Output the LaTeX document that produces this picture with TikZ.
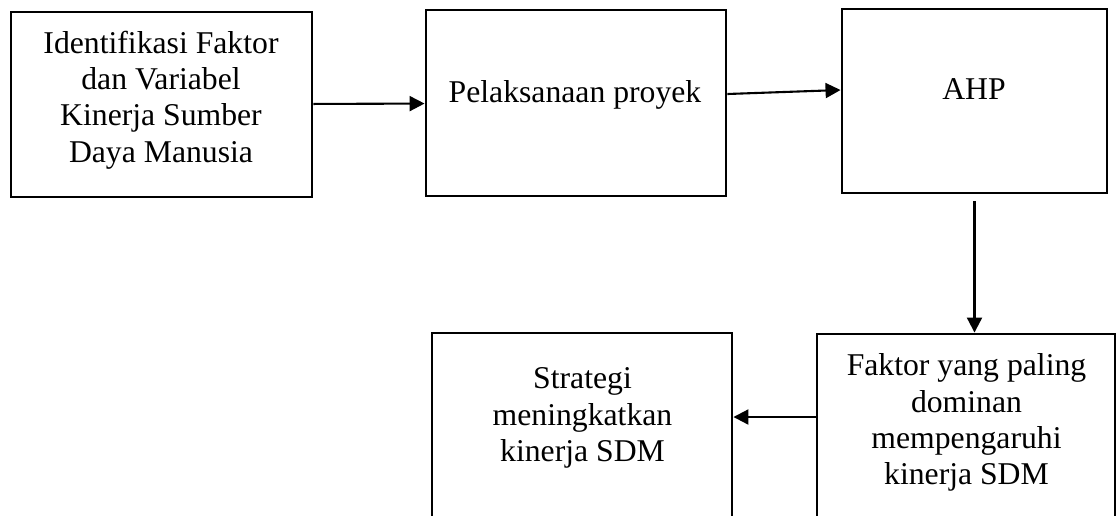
\documentclass[tikz,border=0pt]{standalone}
\usepackage{fontspec}
\setmainfont{Liberation Serif}
\usetikzlibrary{arrows.meta,positioning}

\begin{document}
\begin{tikzpicture}[x=1pt,y=-1pt,
box/.style={draw,line width=2.9pt,inner sep=0pt},
txt/.style={align=center,inner sep=0pt,font=\fontsize{31.7}{36.4}\selectfont},
arr/.style={-{Triangle[length=15pt,width=15pt]},line width=2.1pt}]
\useasboundingbox (0,0) rectangle (1117,515);
\clip (0,0) rectangle (1117,515);
\node[box,minimum width=301pt,minimum height=185pt] (ident) at (161.5,104.5) {};
\node[box,minimum width=300pt,minimum height=186pt] (pel) at (576,103) {};
\node[box,minimum width=265pt,minimum height=184pt] (ahp) at (974.5,101) {};
\node[box,minimum width=298pt,minimum height=191pt] (faktor) at (966,429.5) {};
\node[box,minimum width=300pt,minimum height=192pt] (strat) at (582,429) {};
\node[txt] (identtxt) at (161,100) {Identifikasi Faktor\\dan Variabel\\Kinerja Sumber\\Daya Manusia};
\node[txt] (peltxt) at (575,94.5) {Pelaksanaan proyek};
\node[txt] (ahptxt) at (974,89.5) {AHP};
\node[txt] (faktortxt) at (966.5,422.7) {Faktor yang paling\\dominan\\mempengaruhi\\kinerja SDM};
\node[txt] (strattxt) at (582.5,418) {Strategi\\meningkatkan\\kinerja SDM};
\draw[arr] (ident) -- (pel);
\draw[arr] ([yshift=9pt]pel.east) -- ([yshift=11pt]ahp.west);
\draw[arr,shorten <=7pt] (ahp.south) -- (ahp.south |- faktor.north);
\draw[arr] ([yshift=12.5pt]faktor.west) -- ([yshift=12.5pt]faktor.west -| strat.east);
\end{tikzpicture}
\end{document}
